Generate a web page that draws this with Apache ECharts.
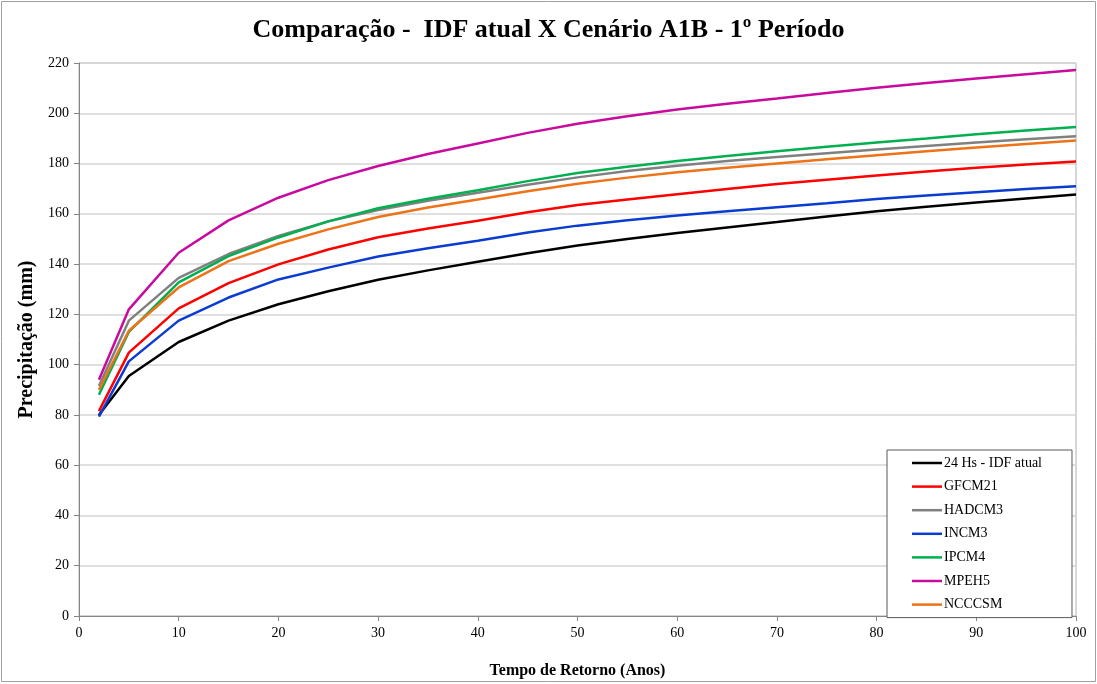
<!DOCTYPE html>
<html>
<head>
<meta charset="utf-8">
<script src="https://cdn.jsdelivr.net/npm/echarts@6/dist/echarts.min.js"></script>
<style>html,body{margin:0;padding:0;background:#fff}#c{width:1097px;height:684px}</style>
</head>
<body>
<div id="c"></div>
<script>
const returnPeriods = [2,5,10,15,20,25,30,35,40,45,50,55,60,65,70,75,80,85,90,95,100];
const seriesNames = ['24 Hs - IDF atual','GFCM21','HADCM3','INCM3','IPCM4','MPEH5','NCCCSM'];
const idfAtual = [80,95.5,109,117.5,124,129.2,133.8,137.5,140.9,144.3,147.4,150,152.4,154.6,156.7,158.9,161,162.8,164.5,166.1,167.7];
const gfcm21   = [81.5,104.8,122.4,132.4,139.9,145.8,150.7,154.2,157.2,160.6,163.5,165.7,167.8,169.9,171.9,173.6,175.2,176.8,178.3,179.6,180.8];
const hadcm3   = [91.5,117.5,134.5,144,151.2,157,161.5,165.2,168.4,171.6,174.5,177,179.1,181,182.6,184.1,185.6,187,188.4,189.7,190.9];
const incm3    = [79.3,101.3,117.5,126.7,133.9,138.6,143,146.3,149.3,152.6,155.3,157.4,159.3,161,162.6,164.2,165.9,167.3,168.6,169.9,171];
const ipcm4    = [88,113,132.7,143.2,150.6,157,162.2,166,169.4,173,176.2,178.7,181,183,184.9,186.7,188.4,190,191.7,193.1,194.5];
const mpeh5    = [94,122,144.5,157.4,166.4,173.4,179,183.8,188,192.2,195.8,198.8,201.5,203.8,205.9,208.1,210.2,212,213.8,215.5,217.2];
const ncccsm   = [90,113.5,130.7,141.2,148.1,153.8,158.7,162.5,165.7,169,172,174.4,176.5,178.3,180,181.7,183.3,184.9,186.4,187.8,189.2];
const seriesValues = [idfAtual,gfcm21,hadcm3,incm3,ipcm4,mpeh5,ncccsm];
const colors = ['#000000','#ff0000','#808080','#0a3cd2','#00b050','#c80a9f','#ee7218'];
const xTicks = [0,10,20,30,40,50,60,70,80,90,100];
const yTicks = [0,20,40,60,80,100,120,140,160,180,200,220];

const serif = '"Liberation Serif","DejaVu Serif",serif';
const chart = echarts.init(document.getElementById('c'), null, {renderer:'canvas'});
chart.setOption({
  animation:false,
  backgroundColor:'#ffffff',
  title:{
    text:'Comparação -  IDF atual X Cenário A1B - 1º Período',
    left:'center', top:12,
    textStyle:{fontFamily:serif,fontWeight:'bold',fontSize:26,color:'#000'}
  },
  graphic:[{type:'rect',shape:{x:1.5,y:1.5,width:1094,height:680},style:{fill:'none',stroke:'#a0a0a0',lineWidth:1},silent:true}],
  grid:{left:79,top:63,right:21,bottom:66,show:true,borderColor:'#b0b0b0',borderWidth:1},
  legend:{
    orient:'vertical', left:887, top:450,
    data:seriesNames,
    icon:'path://M0,0L30,0L30,2.5L0,2.5Z',
    itemWidth:30, itemHeight:14, itemGap:9.6,
    padding:[6,30,6,25],
    backgroundColor:'#ffffff',
    borderColor:'#595959', borderWidth:1,
    textStyle:{fontFamily:serif,fontSize:14,color:'#000',padding:[0,0,0,-3]}
  },
  xAxis:{
    type:'value', min:0, max:100, interval:10,
    name:'Tempo de Retorno (Anos)', nameLocation:'middle', nameGap:47,
    nameTextStyle:{fontFamily:serif,fontWeight:'bold',fontSize:16,color:'#000'},
    axisLine:{show:true,lineStyle:{color:'#868686',width:1}},
    axisTick:{show:true,length:5,lineStyle:{color:'#868686'}},
    axisLabel:{fontFamily:serif,fontSize:14,color:'#000',margin:10,
      formatter:v=>xTicks.includes(v)?String(v):''},
    splitLine:{show:false}
  },
  yAxis:{
    type:'value', min:0, max:220, interval:20,
    name:'Precipitação (mm)', nameLocation:'middle', nameGap:39,
    nameTextStyle:{fontFamily:serif,fontWeight:'bold',fontSize:20,color:'#000'},
    axisLine:{show:true,lineStyle:{color:'#868686',width:1}},
    axisTick:{show:true,length:5,lineStyle:{color:'#868686'}},
    axisLabel:{fontFamily:serif,fontSize:14,color:'#000',margin:10,
      formatter:v=>yTicks.includes(v)?String(v):''},
    splitLine:{show:true,lineStyle:{color:'#d4d4d4',width:1.5}}
  },
  series: seriesNames.map((n,i)=>({
    name:n, type:'line', symbol:'none', smooth:false,
    data: returnPeriods.map((t,j)=>[t, seriesValues[i][j]]),
    lineStyle:{color:colors[i],width:2.5},
    itemStyle:{color:colors[i]},
    z:2+i
  }))
});
</script>
</body>
</html>
